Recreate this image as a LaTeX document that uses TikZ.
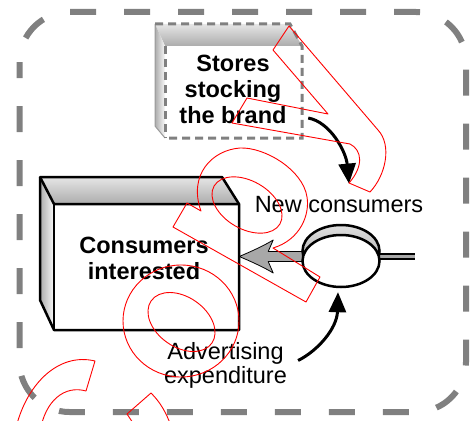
\documentclass[tikz,border=0pt]{standalone}
\usepackage{fontspec}
\setmainfont{Liberation Sans}
\usetikzlibrary{arrows.meta,calc}
\definecolor{framegray}{HTML}{808080}
\definecolor{pipegray}{HTML}{A8A8A8}
\begin{document}
\begin{tikzpicture}[x=1pt,y=-1pt,
  bold label/.style={font=\fontsize{23.5}{26}\selectfont\bfseries, align=center, inner sep=0pt},
  plain label/.style={font=\fontsize{23.5}{24}\selectfont, align=center, inner sep=0pt},
  area/.style={draw=none, inner sep=0pt},
  outer frame/.style={draw=framegray, line width=6pt, dash pattern=on 26pt off 28pt, dash phase=10pt, rounded corners=50pt},
  store edge/.style={draw=framegray, line width=3pt, dash pattern=on 8pt off 5pt},
  solid edge/.style={draw=black, line width=2.5pt, line join=round},
  bend arrow/.style={draw=black, line width=3pt, -{Triangle[length=20pt,width=17pt]}},
  stamp/.style={draw=red, line width=0.9pt, line join=round}
]
\useasboundingbox (0,0) rectangle (470,420);

% dashed boundary of the whole system
\draw[outer frame] (19.5,12) rectangle (466,412);

% --- store box (dashed, bevelled) ---
\node[area, minimum width=137pt, minimum height=92pt] (stores) at (233.5,92) {};
\fill[white] (165,46) rectangle (302,138);
\shade[top color=gray!20, bottom color=gray!65] (155,24) -- (290,24) -- (302,46) -- (165,46) -- cycle;
\shade[left color=gray!65, right color=gray!5] (155,24) -- (165,46) -- (165,138) -- (155,126) -- cycle;
\draw[framegray!80, line width=1pt] (155,24) -- (155,126) -- (165,138);
\draw[store edge] (155,24) -- (290,24) -- (302,46) -- (302,138) -- (165,138);
\draw[store edge] (165,46) -- (165,138);
\node[bold label] (storestxt) at (233,89) {Stores\\stocking\\the brand};

% --- consumers box (solid, bevelled) ---
\node[area, minimum width=185pt, minimum height=126pt] (consumers) at (146.5,267) {};
\fill[white] (54,204) rectangle (239,330);
\shade[top color=gray!20, bottom color=gray!65] (40,177) -- (222,177) -- (239,204) -- (54,204) -- cycle;
\shade[left color=gray!65, right color=gray!5] (40,177) -- (54,204) -- (54,330) -- (40,300) -- cycle;
\draw[solid edge] (40,177) -- (222,177) -- (239,204) -- (239,330) -- (54,330) -- (40,300) -- cycle;
\draw[solid edge] (40,177) -- (54,204) -- (239,204);
\draw[solid edge] (54,204) -- (54,330);
\node[bold label] (constxt) at (144,258.5) {Consumers\\interested};

% --- inflow pipe, valve and flow arrow ---
\node[area, minimum width=77pt, minimum height=52pt] (valve) at (341,261) {};
\coordinate (source) at (415,256.5);
\coordinate (tip) at (consumers.east |- source);
\draw[black, line width=7pt] (valve.center |- source) -- (source);
\draw[pipegray, line width=3pt] (valve.center |- source) -- (source);
\begin{scope}[shift={(tip)}]
  \filldraw[fill=pipegray, draw=black, line width=0.8pt, line join=round]
    (0,0) .. controls (12,-5) and (25,-11) .. (34,-16.5) -- (29,-5) -- (70,-5)
    -- (70,5) -- (29,5) -- (34,16.5) .. controls (25,11) and (12,5) .. (0,0) -- cycle;
\end{scope}
\shadedraw[top color=gray!25, bottom color=gray!75, draw=black, line width=2.5pt]
  (341,251) ellipse [x radius=38.5, y radius=26];
\filldraw[fill=white, draw=black, line width=2.5pt]
  (valve.center) ellipse [x radius=38.5, y radius=26];

% --- labels ---
\node[plain label] (newc) at (339,205) {New consumers};
\node[plain label] (adv) at (225.5,365.5) {Advertising\\expenditure};

% --- influence arrows ---
\draw[bend arrow] ([shift={(6,26)}]stores.east) .. controls +(22,4) and +(-3,-32) .. ([shift={(10,-13)}]newc.north);
\draw[bend arrow] ([shift={(11,-5)}]adv.east) .. controls +(20,-10) and +(-1,36) .. ([shift={(-3,5)}]valve.south);

% --- red outline stamp over the figure ---
\begin{scope}
  \clip (0,0) rectangle (470,420);
  \draw[stamp] (289,26) -- (273,50) -- (328,114) -- (247,98) -- (232,123) -- (350,144)
    .. controls (362,150) and (364,166) .. (349,183) -- (370,192)
    .. controls (386,175) and (392,145) .. (378,130) -- cycle;
  \draw[stamp] (201,211) -- (187,203) -- (173,227) -- (306,302) -- (320,277) -- (273,248)
    .. controls (300,240) and (310,215) .. (307,197)
    .. controls (303,170) and (265,147) .. (240,148)
    .. controls (212,150) and (188,175) .. (201,211) -- cycle;
  \draw[stamp, rotate around={-30:(247,205)}] (247,205) ellipse [x radius=38, y radius=24];
  \draw[stamp] (181,321) ellipse [x radius=58, y radius=56];
  \draw[stamp, rotate around={-35:(181.5,322)}] (181.5,322) ellipse [x radius=37, y radius=25];
  \draw[stamp] (15,432) .. controls (25,385) and (58,352) .. (95,361) -- (86,391)
    .. controls (65,385) and (45,400) .. (40,432);
  \draw[stamp] (135,426) -- (127,414) -- (151,393) .. controls (160,402) and (166,412) .. (171,426);
\end{scope}
\end{tikzpicture}
\end{document}
